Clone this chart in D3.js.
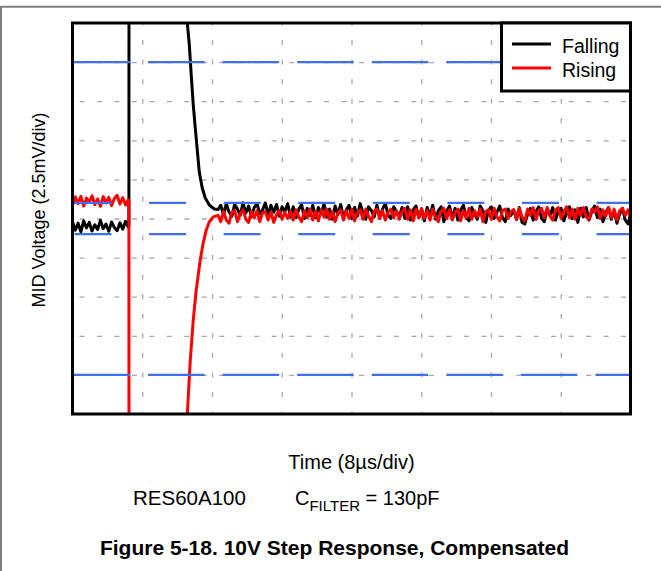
<!DOCTYPE html>
<html><head><meta charset="utf-8">
<script src="https://cdn.jsdelivr.net/npm/d3@7/dist/d3.min.js"></script>
<style>
body{margin:0;background:#fff;}
svg{display:block;font-family:"Liberation Sans",Arial,Helvetica,sans-serif;}
</style>
</head><body>
<svg id="chart" width="661" height="571"></svg>
<script>
// ---------------- DATA ----------------
const timeDomain = [0, 64];          // µs  (8 µs/div, 8 divisions)
const voltDomain = [-12.5, 12.5];    // mV  (2.5 mV/div, 10 divisions)
const xGridTimes = [8, 16, 24, 32, 40, 48, 56];
const yGridVolts = [-10, -7.5, -5, -2.5, 0, 2.5, 5, 7.5, 10];
const cursorOuter = [10, -10];       // mV
const cursorInner = [1, -1];         // mV
const seriesNames = ["Falling", "Rising"];
const seriesColors = ["#000000", "#ff0000"];
const sampleDt = 0.32;               // µs between samples
const settleStart = 17.0;            // µs

const fallingPre = [-0.20,-0.75,-0.30,-0.85,-0.15,-0.60,-0.25,-0.80,-0.40,-0.70,-0.12,-0.65,-0.35,-0.82,-0.22,-0.58,-0.78,-0.28,-0.68,-0.18,-0.55];
const risingPre  = [0.85,1.38,0.95,1.42,0.80,1.30,1.05,1.45,0.88,1.25,0.78,1.40,1.00,1.35,0.82,1.28,1.48,0.92,1.33,0.86,1.20];

// step edge + recovery (time µs, value mV)
const fallingEdge = [[6.47,-0.45],[6.48,14],[13.05,13.6],[13.17,12.5],[13.40,11.09],[13.62,9.17],[13.85,7.26],[14.08,5.79],[14.31,4.38],[14.54,2.97],[14.88,1.95],[15.23,1.31],[15.69,0.86],[16.26,0.61],[16.70,0.58]];
const risingEdge  = [[6.47,1.10],[6.48,-14],[13.05,-13.6],[13.17,-12.5],[13.51,-9.05],[13.85,-6.49],[14.19,-4.57],[14.65,-2.65],[14.99,-1.57],[15.34,-0.73],[15.68,-0.22],[16.14,0.10],[16.70,0.20]];

const fallingSettled = [
0.85,0.25,0.95,0.40,0.15,0.90,0.60,0.20,1.00,0.35,0.80,0.10,0.70,0.95,0.30,0.55,1.00,0.20,0.85,0.40,0.90,0.15,0.75,0.45,0.95,
0.10,0.75,0.05,0.60,0.90,0.00,0.65,0.20,0.85,0.05,0.70,0.30,0.95,0.10,0.60,-0.05,0.80,0.25,0.90,0.05,0.55,0.85,0.00,0.70,0.15,0.95,0.35,-0.05,0.75,0.50,0.10,0.85,0.05,0.60,0.95,0.20,0.00,0.75,0.45,0.10,
0.70,0.00,0.75,-0.10,0.55,0.80,0.05,0.60,-0.15,0.70,0.15,0.85,-0.05,0.50,0.75,-0.20,0.45,0.80,0.00,0.65,-0.10,0.55,0.85,0.05,-0.15,0.70,0.30,-0.05,0.80,0.50,-0.25,0.55,0.75,0.00,0.40,0.80,0.05,-0.20,0.60,0.20,
0.55,-0.05,0.70,-0.25,-0.35,0.30,0.65,-0.10,0.45,0.75,0.00,-0.20,0.60,0.20,0.70,-0.10,0.50,0.65,-0.15,0.40,0.75,0.00,0.55,-0.25,0.65,0.10,0.70,-0.10,0.45,0.80,0.05,0.60,-0.20,0.35,0.70,-0.05,0.50,-0.30,0.30,0.65,-0.10,-0.35,0.35];

const risingSettled = [
-0.20,0.45,-0.10,-0.30,0.40,0.50,-0.20,0.30,0.55,-0.05,-0.25,0.45,0.05,0.50,-0.20,0.35,0.45,-0.10,0.40,-0.25,0.25,0.50,-0.05,0.40,0.00,
0.45,-0.10,0.55,0.10,-0.20,0.50,0.05,0.60,-0.10,0.45,-0.15,0.55,0.10,0.60,-0.05,0.45,-0.20,0.35,0.55,-0.10,0.50,0.00,0.60,-0.15,0.40,0.55,-0.05,0.60,0.15,-0.20,0.45,0.60,0.00,0.50,-0.10,0.40,0.60,0.05,0.50,-0.05,
0.45,0.65,-0.05,0.55,-0.15,0.60,0.05,0.65,0.00,0.50,-0.10,0.60,0.10,-0.20,0.45,0.65,0.00,0.55,-0.10,0.40,0.60,-0.15,0.50,0.05,0.65,-0.05,0.50,0.10,0.60,-0.20,0.45,0.55,-0.05,0.65,0.10,-0.15,0.50,0.60,0.00,0.45,
0.55,-0.05,0.65,0.10,-0.15,0.60,0.20,0.70,-0.05,0.50,0.65,0.05,0.70,0.15,-0.10,0.55,0.70,0.00,0.45,0.75,0.05,0.60,-0.05,0.65,0.20,0.70,0.10,-0.05,0.60,0.40,0.75,0.00,0.55,0.15,0.70,0.05,0.60,-0.10,0.50,0.65,0.20,0.55,0.00];

// ---------------- BUILD ----------------
function buildSeries(pre, edge, settled){
  const pts = pre.map((v,i)=>[i*sampleDt, v]);
  edge.forEach(p=>pts.push(p));
  settled.forEach((v,i)=>pts.push([settleStart + i*sampleDt, v]));
  return pts;
}
const series = [
  buildSeries(fallingPre, fallingEdge, fallingSettled),
  buildSeries(risingPre, risingEdge, risingSettled)
];

const L = 72.5, R = 630.5, T = 23, B = 414;
const x = d3.scaleLinear().domain(timeDomain).range([L, R]);
const y = d3.scaleLinear().domain(voltDomain).range([B, T]);

const svg = d3.select("#chart");

// outer figure frame (partial)
svg.append("line").attr("x1",0).attr("x2",661).attr("y1",6.7).attr("y2",6.7)
   .attr("stroke","#808080").attr("stroke-width",2);
svg.append("line").attr("x1",1).attr("x2",1).attr("y1",6).attr("y2",571)
   .attr("stroke","#808080").attr("stroke-width",2);

svg.append("defs").append("clipPath").attr("id","plotclip")
   .append("rect").attr("x",L).attr("y",T).attr("width",R-L).attr("height",B-T);

const plot = svg.append("g").attr("clip-path","url(#plotclip)");

// grid
const gridColor = "#a8a8a8";
const xAxisGrid = d3.axisBottom(x).tickValues(xGridTimes).tickSize(-(B-T)).tickFormat("");
const gx = plot.append("g").attr("transform",`translate(0,${B})`).call(xAxisGrid);
gx.select(".domain").remove();
gx.selectAll("line").attr("stroke",gridColor).attr("stroke-width",1.3)
  .attr("stroke-dasharray","5,14.55").attr("stroke-dashoffset",2.5);

const yAxisGrid = d3.axisLeft(y).tickValues(yGridVolts).tickSize(-(R-L)).tickFormat("");
const gy = plot.append("g").attr("transform",`translate(${L},0)`).call(yAxisGrid);
gy.select(".domain").remove();
gy.selectAll("line").attr("stroke",gridColor).attr("stroke-width",1.3)
  .attr("stroke-dasharray","5,12.47").attr("stroke-dashoffset",-7);

// traces
const line = d3.line().x(d=>x(d[0])).y(d=>y(d[1]));
series.forEach((s,i)=>{
  plot.append("path").datum(s).attr("d",line).attr("fill","none")
      .attr("stroke",seriesColors[i]).attr("stroke-width",3)
      .attr("stroke-linejoin","round");
});

// cursors
const blue = "#3f6ef0";
cursorOuter.forEach(v=>{
  plot.append("line").attr("x1",L+1).attr("x2",R).attr("y1",y(v)).attr("y2",y(v))
      .attr("stroke",blue).attr("stroke-width",2.4).attr("stroke-dasharray","56.5,18.07");
});
cursorInner.forEach(v=>{
  plot.append("line").attr("x1",L+2).attr("x2",R).attr("y1",y(v)).attr("y2",y(v))
      .attr("stroke",blue).attr("stroke-width",2.4).attr("stroke-dasharray","37,37.57");
});

// plot frame
svg.append("rect").attr("x",L).attr("y",T).attr("width",R-L).attr("height",B-T)
   .attr("fill","none").attr("stroke","#000").attr("stroke-width",3);

// legend
const lg = svg.append("g");
lg.append("rect").attr("x",501.5).attr("y",T).attr("width",R-501.5).attr("height",68)
  .attr("fill","#fff").attr("stroke","#000").attr("stroke-width",3);
seriesNames.forEach((n,i)=>{
  const yy = 44 + i*24;
  lg.append("line").attr("x1",512).attr("x2",551).attr("y1",yy).attr("y2",yy)
    .attr("stroke",seriesColors[i]).attr("stroke-width",3);
  lg.append("text").attr("x",562).attr("y",yy+9).attr("font-size",19.5).attr("fill","#000").text(n);
});

// axis titles
svg.append("text").attr("transform","translate(45,210) rotate(-90)")
   .attr("text-anchor","middle").attr("font-size",18).text("MID Voltage (2.5mV/div)");
svg.append("text").attr("x",(L+R)/2).attr("y",469).attr("text-anchor","middle")
   .attr("font-size",20).text("Time (8µs/div)");

// annotation line
svg.append("text").attr("x",133).attr("y",505).attr("font-size",20.5).text("RES60A100");
const cf = svg.append("text").attr("x",295).attr("y",505).attr("font-size",20);
cf.append("tspan").text("C");
cf.append("tspan").attr("font-size",15).attr("dy",6).text("FILTER");
cf.append("tspan").attr("dy",-6).text(" = 130pF");

// caption
svg.append("text").attr("x",334.5).attr("y",555).attr("text-anchor","middle")
   .attr("font-size",21).attr("font-weight","bold").text("Figure 5-18. 10V Step Response, Compensated");
</script>
</body></html>
